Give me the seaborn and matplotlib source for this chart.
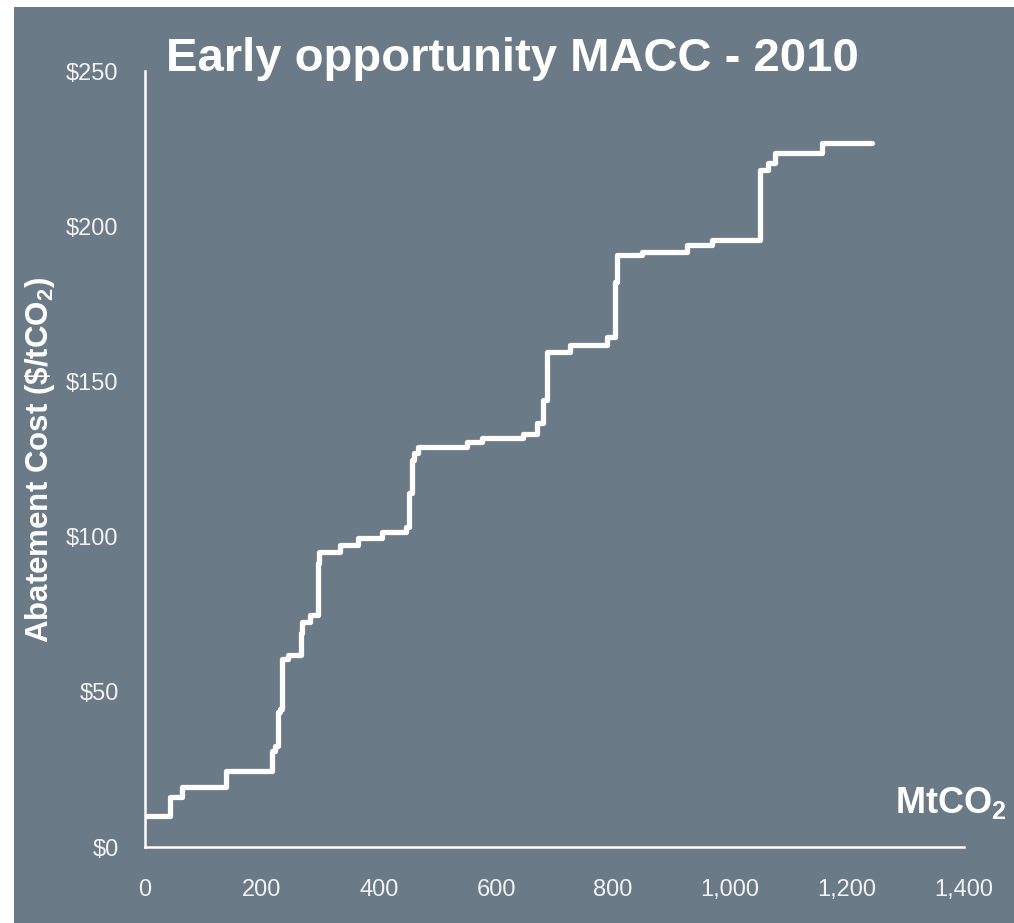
import numpy as np
import pandas as pd
import matplotlib
matplotlib.use("Agg")
import matplotlib.pyplot as plt
import seaborn as sns

# Step curve: cumulative abatement where each measure starts (MtCO2) and its cost ($/tCO2)
mt_start = [0, 43, 63, 138, 217, 222, 227, 231, 234, 245, 267, 269, 282, 296, 298,
            333, 364, 405, 447, 452, 456, 460, 466, 550, 576, 646, 670, 681, 687,
            726, 789, 803, 806, 849, 926, 969, 1051, 1065, 1077, 1157]
mt_end = 1243
cost = [10, 16, 19.3, 24.5, 31, 32.5, 43.5, 44.5, 60.5, 62, 69, 72.5, 74.7, 91.5, 95,
        97.3, 99.5, 101.5, 103, 114, 124.7, 127, 129, 130.5, 131.7, 133, 136.5, 144, 159.5,
        161.7, 164.3, 182, 190.7, 191.7, 194, 195.5, 218, 220.4, 223.6, 226.8]

x_ticks = [0, 200, 400, 600, 800, 1000, 1200, 1400]
x_tick_labels = ["0", "200", "400", "600", "800", "1,000", "1,200", "1,400"]
y_ticks = [0, 50, 100, 150, 200, 250]
y_tick_labels = ["$0", "$50", "$100", "$150", "$200", "$250"]

bg = "#6A7A86"
txt = "#F2F2F2"

sns.set_style("white")
plt.rcParams["font.family"] = ["Liberation Sans", "DejaVu Sans"]
plt.rcParams["mathtext.fontset"] = "custom"
plt.rcParams["mathtext.rm"] = "Liberation Sans"
plt.rcParams["mathtext.bf"] = "Liberation Sans:bold"

df = pd.DataFrame({"mt": mt_start + [mt_end], "cost": cost + [cost[-1]]})

fig = plt.figure(figsize=(10.14, 9.23), dpi=100, facecolor="white")
# grey panel behind everything (thin white strip on left and top)
fig.patches.append(plt.Rectangle((14 / 1014, 0), 1, 1 - 7 / 923, transform=fig.transFigure,
                                 facecolor=bg, edgecolor="none", zorder=0))

ax = fig.add_axes([145 / 1014, 1 - 847 / 923, 819 / 1014, 776 / 923])
ax.set_facecolor("none")
ax.set_zorder(2)

sns.lineplot(data=df, x="mt", y="cost", drawstyle="steps-post", color="white",
             linewidth=3.8, ax=ax, solid_capstyle="round", solid_joinstyle="round")

ax.set_xlim(0, 1400)
ax.set_ylim(0, 250)
ax.set_xticks(x_ticks)
ax.set_xticklabels(x_tick_labels)
ax.set_yticks(y_ticks)
ax.set_yticklabels(y_tick_labels)
ax.tick_params(axis="both", colors="white", labelcolor=txt, labelsize=17,
               length=6, width=1.5, direction="out")
ax.tick_params(axis="x", pad=17)
ax.tick_params(axis="y", pad=13)
ax.set_xlabel("")
ax.set_ylabel("")

for s in ["top", "right"]:
    ax.spines[s].set_visible(False)
for s in ["left", "bottom"]:
    ax.spines[s].set_color("white")
    ax.spines[s].set_linewidth(1.8)

fig.text(166 / 1014, 1 - 71 / 923, "Early opportunity MACC - 2010", color="white",
         fontsize=34, fontweight="bold", ha="left", va="baseline", zorder=3)
fig.text(40 / 1014, 1 - 460 / 923, r"Abatement Cost (\$/tCO$_\mathbf{2}$)", color="white",
         fontsize=22.5, fontweight="bold", rotation=90, ha="center", va="center", zorder=3)
fig.text(895 / 1014, 1 - 813 / 923, r"MtCO$_\mathbf{2}$", color="white",
         fontsize=26, fontweight="bold", ha="left", va="baseline", zorder=3)

fig.savefig("out.png", dpi=100, facecolor=fig.get_facecolor())
